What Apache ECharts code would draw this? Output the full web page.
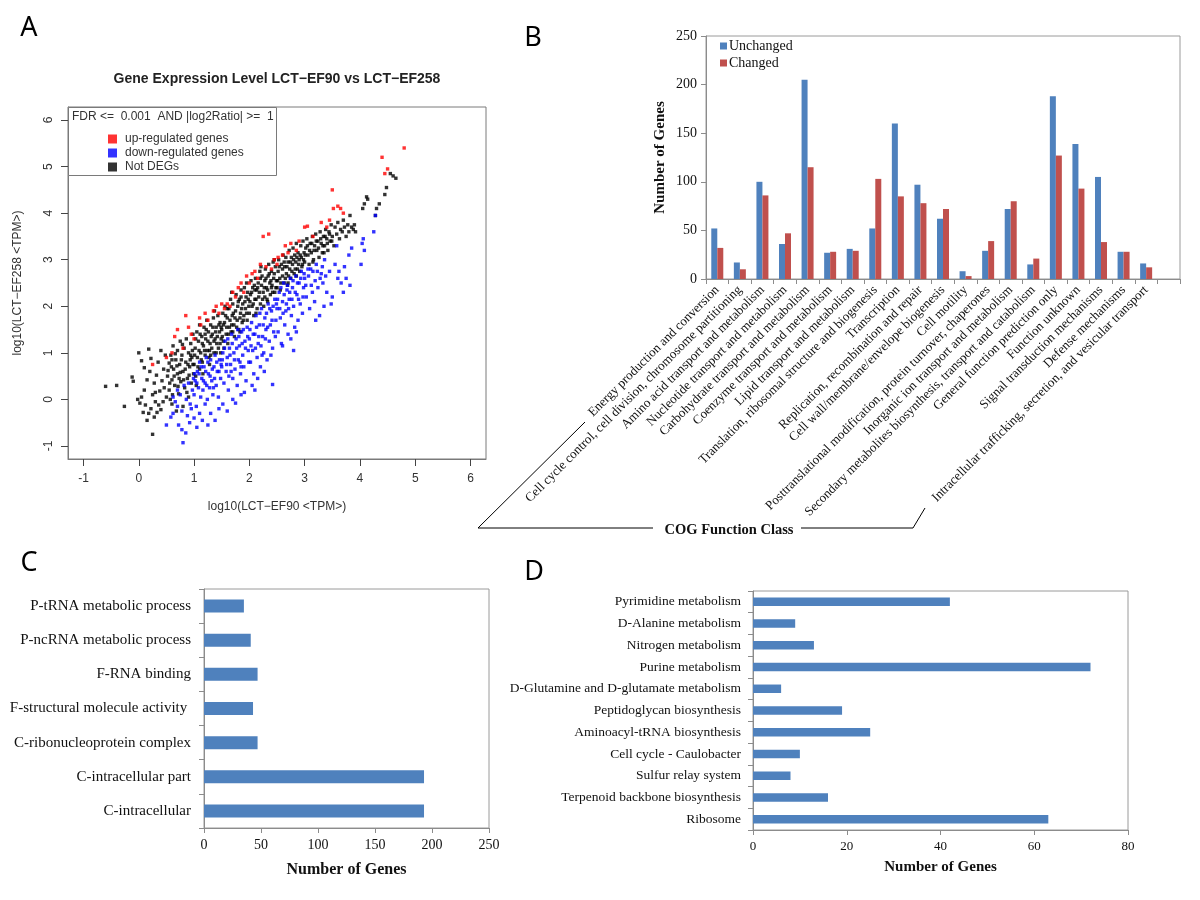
<!DOCTYPE html>
<html><head><meta charset="utf-8">
<script src="https://cdn.jsdelivr.net/npm/echarts@6/dist/echarts.min.js"></script>
<style>html,body{margin:0;padding:0;background:#fff}#c{width:1200px;height:900px}</style>
</head><body><div id="c"></div>
<script>
// ---------- Panel A : scatter (log10 TPM) ----------
const scatterTicks = [-1, 0, 1, 2, 3, 4, 5, 6];
const upRegulated = [
[0.25,0.75],[0.5,0.9],[0.6,1.0],[0.65,1.35],[0.7,1.5],[0.85,1.8],[0.8,1.1],[0.9,1.55],[1.0,1.3],[1.1,1.75],
[1.12,1.6],[1.25,1.7],[1.35,1.9],[1.4,2.0],[1.5,2.05],[1.6,2.05],[1.65,2.0],[1.7,2.3],[1.8,2.4],[1.85,2.5],
[1.9,2.3],[1.95,2.65],[2.05,2.7],[2.2,2.9],[2.25,3.5],[2.35,3.55],[2.4,2.8],[2.5,2.9],[2.52,3.05],[2.6,3.1],
[2.65,3.3],[2.75,3.35],[2.85,3.2],[2.9,3.4],[3.0,3.7],[3.05,3.72],[3.15,3.5],[3.3,3.8],[3.4,3.7],[3.45,3.85],
[3.5,4.5],[3.52,4.1],[3.6,4.15],[3.65,4.1],[3.7,4.0],[4.4,5.2],[4.45,4.85],[4.5,4.95],[4.8,5.4],[1.2,1.85],
[1.45,1.85],[2.1,2.75],[2.3,2.85],[2.0,2.5],[1.75,2.2],[2.45,3.0],[2.7,3.15],[1.55,1.95],[0.95,1.4],[2.15,2.6]
];
const downRegulated = [
[0.5,-0.55],[0.58,-0.38],[0.62,-0.3],[0.7,-0.15],[0.72,-0.55],[0.78,-0.65],[0.8,-0.93],[0.85,-0.72],[0.88,-0.35],[0.92,-0.5],
[0.95,-0.2],[1.0,-0.4],[1.05,-0.6],[1.1,-0.3],[1.15,-0.45],[1.2,-0.1],[1.25,-0.55],[1.3,-0.3],[1.38,-0.45],[1.45,-0.2],
[1.52,-0.1],[1.6,-0.25],[1.7,0.0],[1.75,-0.08],[1.85,0.1],[2.05,0.3],[2.1,0.2],[2.42,0.32],[2.8,1.05],
[0.62,0.05],[0.66,-0.05],[0.7,0.2],[0.75,0.1],[0.78,-0.25],[0.82,0.3],[0.86,0.0],[0.9,0.35],[0.93,-0.1],[0.97,0.2],[0.99,0.45],
[1.0,0.1],[1.02,0.4],[1.04,-0.15],[1.06,0.6],[1.08,0.25],[1.1,0.8],[1.12,0.05],[1.14,0.45],[1.16,0.2],[1.18,0.7],
[1.2,0.35],[1.22,0.9],[1.24,0.0],[1.26,0.55],[1.28,0.25],[1.3,0.85],[1.32,0.4],[1.34,0.1],[1.36,0.7],[1.38,0.95],
[1.4,0.3],[1.42,0.6],[1.44,0.05],[1.46,0.85],[1.48,0.45],
[1.01,0.55],[1.05,0.35],[1.09,0.55],[1.13,0.7],[1.17,0.4],[1.21,0.6],[1.25,0.8],[1.29,0.5],[1.33,0.65],[1.37,0.45],
[1.41,0.8],[1.45,0.6],[1.49,0.75],[1.23,0.3],[1.35,0.25],
[1.5,0.7],[1.52,1.0],[1.54,0.35],[1.56,1.25],[1.58,0.6],[1.6,0.9],[1.62,0.2],[1.64,1.1],[1.66,0.75],[1.68,1.4],
[1.7,0.45],[1.72,1.0],[1.74,0.65],[1.76,1.3],[1.78,0.3],[1.8,0.85],[1.82,1.15],[1.84,0.55],[1.86,1.45],[1.88,0.95],
[1.9,0.7],[1.92,1.25],[1.94,0.4],[1.96,1.55],[1.98,1.05],[1.63,0.5],[1.79,1.5],[1.91,0.15],
[1.51,0.85],[1.55,1.1],[1.59,0.75],[1.61,1.3],[1.65,0.95],[1.69,1.2],[1.73,0.85],[1.77,1.1],[1.81,1.35],[1.83,0.8],
[1.87,1.2],[1.89,1.5],[1.93,1.1],[1.97,1.35],[1.99,0.8],[1.67,0.6],[1.85,0.7],
[2.0,1.3],[2.02,0.8],[2.04,1.65],[2.06,1.05],[2.08,0.55],[2.1,1.4],[2.12,1.8],[2.14,0.9],[2.16,1.2],[2.18,1.6],
[2.2,0.7],[2.22,1.95],[2.24,1.35],[2.26,1.0],[2.28,1.75],[2.3,1.5],[2.32,0.85],[2.34,2.05],[2.36,1.25],[2.38,1.6],
[2.4,1.9],[2.42,1.1],[2.44,1.45],[2.46,2.15],[2.48,1.7],[2.15,0.45],[2.27,0.6],[2.39,0.95],
[2.01,1.5],[2.03,1.15],[2.07,1.4],[2.11,1.1],[2.13,1.55],[2.17,1.35],[2.19,1.85],[2.21,1.15],[2.25,1.6],[2.29,1.3],
[2.31,1.85],[2.33,1.55],[2.37,1.95],[2.41,1.7],[2.43,2.0],[2.47,1.35],[2.49,2.05],[2.23,0.95],
[2.5,1.95],[2.52,1.45],[2.54,2.3],[2.56,1.75],[2.58,1.2],[2.6,2.1],[2.62,2.5],[2.64,1.6],[2.66,1.9],[2.68,2.35],
[2.7,1.4],[2.72,2.15],[2.74,2.6],[2.76,1.8],[2.78,2.4],[2.8,2.0],[2.82,1.55],[2.84,2.65],[2.86,2.25],[2.88,1.7],
[2.9,2.5],[2.92,2.05],[2.94,2.75],[2.96,1.85],[2.98,2.4],[2.6,1.15],[2.75,1.3],[2.85,1.45],
[2.51,2.15],[2.55,1.95],[2.57,2.4],[2.61,1.85],[2.63,2.25],[2.67,2.05],[2.69,2.45],[2.71,1.95],[2.73,2.3],[2.77,2.15],
[2.79,2.55],[2.83,2.3],[2.87,2.5],[2.89,2.15],[2.93,2.6],[2.97,2.2],[2.99,2.7],
[3.0,2.6],[3.03,2.2],[3.06,2.8],[3.09,1.95],[3.12,2.45],[3.15,2.75],[3.18,2.1],[3.21,2.9],[3.24,2.4],[3.27,1.8],
[3.3,2.7],[3.33,2.5],[3.36,3.0],[3.4,2.3],[3.45,2.75],[3.48,2.05],[3.2,1.7],[3.35,2.0],
[3.02,2.45],[3.07,2.65],[3.11,2.8],[3.14,2.3],[3.19,2.55],[3.23,2.75],[3.28,2.6],[3.32,2.85],[3.38,2.65],
[3.5,2.2],[3.55,2.9],[3.58,3.3],[3.6,2.6],[3.62,2.75],[3.66,2.5],[3.7,2.3],[3.72,2.85],[3.75,2.6],[3.8,3.1],
[3.82,2.45],[3.85,3.25],[4.02,2.9],[4.04,3.35],[4.06,3.45],[4.08,3.2],[4.25,3.6],[4.28,3.95]
];
const notDEGs = [
[-0.6,0.28],[-0.4,0.3],[-0.26,-0.15],[-0.1,0.39],[-0.12,0.48],[0,1.0],[0.05,0.83],[0.18,1.08],[0.25,-0.75],[-0.02,0],
[0.02,-0.08],[0.05,0.05],[0.08,-0.28],[0.12,-0.12],[0.15,-0.45],[0.18,-0.3],[0.22,-0.2],[0.28,-0.38],[0.3,-0.05],[0.1,0.2],
[0.15,0.42],[0.2,0.6],[0.25,0.1],[0.28,0.35],[0.32,0.52],[0.35,0.8],[0.38,0.18],[0.4,-0.22],[0.42,0.4],[0.45,0.65],
[0.48,0.95],[0.5,0.05],[0.33,-0.28],[0.4,1.05],[0.46,0.25],[0.36,-0.12],[0.1,0.68],[0.22,0.88],[0.3,0.15],[0.44,-0.05],
[0.52,0.5],[0.55,0.78],[0.55,0.2],[0.58,0.95],[0.6,-0.1],[0.6,0.42],[0.62,1.15],[0.63,0.65],[0.65,0.3],[0.67,0.85],
[0.68,-0.25],[0.7,0.55],[0.7,1.05],[0.72,0.12],[0.74,0.75],[0.75,1.25],[0.76,0.38],[0.78,0.95],[0.8,0.6],[0.8,-0.15],
[0.82,1.1],[0.83,0.25],[0.85,0.8],[0.86,1.3],[0.88,0.45],[0.9,1.0],[0.9,0.05],[0.92,0.7],[0.94,1.2],[0.95,0.35],
[0.96,0.9],[0.98,1.4],[0.99,0.55],[0.57,0.0],[0.66,0.98],[0.73,0.45],[0.79,1.18],[0.84,0.65],[0.87,0.15],[0.93,0.85],[0.97,1.05],
[0.53,0.62],[0.56,0.35],[0.59,0.7],[0.61,0.1],[0.64,0.5],[0.69,0.72],[0.71,0.28],[0.77,0.85],[0.81,0.42],[0.89,0.75],
[0.91,0.52],[0.94,0.95],[0.98,0.75],[0.6,0.85],[0.75,0.58],
[1.0,0.75],[1.02,1.1],[1.03,0.5],[1.05,1.45],[1.06,0.9],[1.08,1.25],[1.1,0.65],[1.1,1.6],[1.12,1.0],[1.14,1.35],
[1.15,0.8],[1.17,1.15],[1.18,1.55],[1.2,0.95],[1.21,1.3],[1.23,1.7],[1.24,1.05],[1.26,1.45],[1.27,0.9],[1.29,1.2],
[1.3,1.6],[1.32,1.1],[1.33,1.4],[1.35,1.75],[1.36,1.0],[1.38,1.3],[1.4,1.55],[1.41,1.2],[1.43,1.8],[1.44,1.1],
[1.46,1.45],[1.47,1.65],[1.49,1.3],[1.04,0.3],[1.16,0.55],[1.28,0.75],[1.37,1.9],[1.48,1.0],
[1.01,0.95],[1.03,1.3],[1.07,0.7],[1.09,1.05],[1.11,1.4],[1.13,0.85],[1.15,1.2],[1.19,1.05],[1.22,1.5],[1.25,1.25],
[1.28,1.05],[1.31,1.35],[1.34,1.55],[1.36,1.25],[1.39,1.45],[1.42,1.35],[1.45,1.6],[1.47,1.2],[1.49,1.55],[1.2,1.4],
[1.3,0.95],[1.4,1.0],
[1.5,1.5],[1.52,1.85],[1.53,1.25],[1.55,1.65],[1.56,2.0],[1.58,1.4],[1.6,1.75],[1.61,1.2],[1.63,1.95],[1.64,1.55],
[1.66,2.15],[1.67,1.45],[1.69,1.8],[1.7,2.05],[1.72,1.6],[1.73,1.35],[1.75,1.9],[1.76,2.25],[1.78,1.7],[1.79,2.0],
[1.81,1.5],[1.82,2.15],[1.84,1.85],[1.85,2.35],[1.87,1.65],[1.88,2.05],[1.9,1.8],[1.91,2.4],[1.93,1.95],[1.94,2.2],
[1.96,1.7],[1.97,2.3],[1.99,2.0],[1.54,1.1],[1.68,2.3],[1.83,1.45],[1.95,2.5],
[1.51,1.35],[1.53,1.6],[1.57,1.8],[1.59,1.55],[1.62,1.4],[1.65,1.7],[1.68,1.6],[1.71,1.85],[1.74,1.75],[1.77,1.55],
[1.8,2.1],[1.83,1.75],[1.86,1.95],[1.89,1.7],[1.92,2.1],[1.95,1.85],[1.98,2.15],[1.6,1.95],[1.7,1.45],[1.85,2.2],
[2.0,1.85],[2.02,2.25],[2.03,2.55],[2.05,2.0],[2.06,2.4],[2.08,1.8],[2.1,2.15],[2.11,2.6],[2.13,2.35],[2.14,1.95],
[2.16,2.5],[2.17,2.2],[2.19,2.75],[2.2,2.05],[2.22,2.45],[2.23,2.65],[2.25,2.3],[2.26,2.0],[2.28,2.55],[2.29,2.8],
[2.31,2.4],[2.32,2.15],[2.34,2.65],[2.35,2.9],[2.37,2.5],[2.38,2.25],[2.4,2.75],[2.41,2.45],[2.43,2.95],[2.44,2.6],
[2.46,2.3],[2.47,2.85],[2.49,2.55],[2.09,2.45],[2.21,2.85],[2.33,2.1],[2.45,3.0],
[2.01,2.1],[2.04,2.3],[2.07,2.05],[2.1,2.35],[2.12,2.15],[2.15,2.4],[2.18,2.3],[2.2,2.6],[2.24,2.15],[2.27,2.4],
[2.3,2.6],[2.33,2.35],[2.36,2.7],[2.39,2.55],[2.42,2.3],[2.45,2.7],[2.48,2.4],[2.12,1.85],[2.28,2.2],[2.4,2.4],
[2.5,2.4],[2.52,2.75],[2.53,3.0],[2.55,2.6],[2.56,2.35],[2.58,2.9],[2.6,2.65],[2.61,3.1],[2.63,2.5],[2.64,2.85],
[2.66,3.05],[2.67,2.7],[2.69,2.45],[2.7,2.95],[2.72,3.2],[2.73,2.8],[2.75,2.6],[2.76,3.05],[2.78,2.9],[2.79,3.25],
[2.81,2.7],[2.82,3.1],[2.84,2.95],[2.85,3.35],[2.87,2.8],[2.88,3.15],[2.9,3.0],[2.91,2.75],[2.93,3.3],[2.94,3.05],
[2.96,2.9],[2.97,3.4],[2.99,3.15],
[2.51,2.55],[2.54,2.85],[2.57,2.5],[2.6,2.8],[2.63,2.95],[2.65,2.6],[2.68,2.85],[2.71,2.65],[2.74,2.95],[2.77,2.75],
[2.8,3.0],[2.83,2.8],[2.86,3.05],[2.89,2.9],[2.92,3.1],[2.95,2.85],[2.98,3.0],[2.7,2.5],[2.85,2.65],
[3.0,2.95],[3.02,3.25],[3.04,3.45],[3.06,3.1],[3.08,2.9],[3.1,3.35],[3.12,3.15],[3.14,3.5],[3.16,3.0],[3.18,3.3],
[3.2,3.55],[3.22,3.2],[3.24,3.4],[3.26,3.05],[3.28,3.6],[3.3,3.35],[3.32,3.15],[3.34,3.5],[3.36,3.3],[3.38,3.65],
[3.4,3.45],[3.42,3.2],[3.44,3.6],[3.46,3.4],[3.48,3.75],
[3.01,3.1],[3.05,3.3],[3.09,3.2],[3.13,3.35],[3.17,3.2],[3.21,3.4],[3.25,3.25],[3.29,3.45],[3.33,3.3],[3.37,3.5],
[3.41,3.35],[3.45,3.55],[3.49,3.4],[3.15,2.95],[3.35,3.15],
[3.5,3.5],[3.53,3.3],[3.55,3.7],[3.58,3.55],[3.6,3.8],[3.63,3.45],[3.65,3.65],[3.68,3.6],[3.7,3.85],[3.72,3.7],
[3.75,3.5],[3.78,3.75],[3.8,3.6],[3.82,3.95],[3.85,3.7],[3.88,3.65],[3.9,3.75],[3.92,3.6],
[4.05,4.1],[4.08,4.2],[4.12,4.35],[4.14,4.3],[4.28,3.95],[4.3,4.1],[4.35,4.2],[4.45,4.4],[4.48,4.55],[4.55,4.85],
[4.6,4.8],[4.65,4.75]
];

// ---------- Panel B : COG function classes ----------
const cogClasses = [
'Energy production and conversion',
'Cell cycle control, cell division, chromosome partitioning',
'Amino acid transport and metabolism',
'Nucleotide transport and metabolism',
'Carbohydrate transport and metabolism',
'Coenzyme transport and metabolism',
'Lipid transport and metabolism',
'Translation, ribosomal structure and biogenesis',
'Transcription',
'Replication, recombination and repair',
'Cell wall/membrane/envelope biogenesis',
'Cell motility',
'Posttranslational modification, protein turnover, chaperones',
'Inorganic ion transport and metabolism',
'Secondary metabolites biosynthesis, transport and catabolism',
'General function prediction only',
'Function unknown',
'Signal transduction mechanisms',
'Defense mechanisms',
'Intracellular trafficking, secretion, and vesicular transport',
''
];
const cogUnchanged = [52,17,100,36,205,27,31,52,160,97,62,8,29,72,15,188,139,105,28,16,null];
const cogChanged   = [32,10,86,47,115,28,29,103,85,78,72,3,39,80,21,127,93,38,28,12,null];

// ---------- Panel C : GO terms ----------
const goTerms = ['P-tRNA metabolic process','P-ncRNA metabolic process','F-RNA binding',
'F-structural molecule activity ','C-ribonucleoprotein complex','C-intracellular part','C-intracellular'];
const goCounts = [35,41,47,43,47,193,193];

// ---------- Panel D : KEGG pathways ----------
const keggPathways = ['Pyrimidine metabolism','D-Alanine metabolism','Nitrogen metabolism','Purine metabolism',
'D-Glutamine and D-glutamate metabolism','Peptidoglycan biosynthesis','Aminoacyl-tRNA biosynthesis',
'Cell cycle - Caulobacter','Sulfur relay system','Terpenoid backbone biosynthesis','Ribosome'];
const keggCounts = [42,9,13,72,6,19,25,10,8,16,63];

const SANS = 'Liberation Sans';
const SERIF = 'Liberation Serif';
const BLUE = '#4F81BD', RED = '#C0504D';
const axisGray = '#8c8c8c';

const chart = echarts.init(document.getElementById('c'), null, {renderer: 'canvas'});

const serifLabel = (size) => ({fontFamily: SERIF, fontSize: size, color: '#111'});

chart.setOption({
  animation: false,
  backgroundColor: '#fff',
  grid: [
    {left: 68, top: 107, width: 418, height: 352, show: true, borderColor: '#7a7a7a', borderWidth: 1, backgroundColor: 'transparent'},
    {left: 706, top: 36, width: 474, height: 243, show: true, borderColor: '#9a9a9a', borderWidth: 1, backgroundColor: 'transparent'},
    {left: 204, top: 589, width: 285, height: 239, show: true, borderColor: '#9a9a9a', borderWidth: 1, backgroundColor: 'transparent'},
    {left: 753, top: 591, width: 375, height: 239, show: true, borderColor: '#9a9a9a', borderWidth: 1, backgroundColor: 'transparent'}
  ],
  xAxis: [
    {gridIndex: 0, type: 'value', min: -1.28, max: 6.28,
     axisLine: {show: true, onZero: false, lineStyle: {color: '#7a7a7a'}}, splitLine: {show: false},
     axisTick: {show: true, customValues: scatterTicks, length: 7, lineStyle: {color: '#444'}},
     axisLabel: {customValues: scatterTicks, margin: 14, fontFamily: SANS, fontSize: 12, color: '#333'},
     name: 'log10(LCT\u2212EF90 <TPM>)', nameLocation: 'middle', nameGap: 42,
     nameTextStyle: {fontFamily: SANS, fontSize: 12, color: '#333'}},
    {gridIndex: 1, type: 'category', data: cogClasses,
     axisLine: {show: true, onZero: false, lineStyle: {color: axisGray}},
     axisTick: {show: true, length: 5, lineStyle: {color: axisGray}},
     axisLabel: {interval: 0, rotate: 45, margin: 9, fontFamily: SERIF, fontSize: 13, color: '#111'}},
    {gridIndex: 2, type: 'value', min: 0, max: 250, interval: 50,
     axisLine: {show: true, onZero: false, lineStyle: {color: axisGray}}, splitLine: {show: false},
     axisTick: {show: true, length: 5, lineStyle: {color: axisGray}},
     axisLabel: Object.assign({margin: 10}, serifLabel(14)),
     name: 'Number of Genes', nameLocation: 'middle', nameGap: 34,
     nameTextStyle: {fontFamily: SERIF, fontSize: 16, fontWeight: 'bold', color: '#111'}},
    {gridIndex: 3, type: 'value', min: 0, max: 80, interval: 20,
     axisLine: {show: true, onZero: false, lineStyle: {color: axisGray}}, splitLine: {show: false},
     axisTick: {show: true, length: 5, lineStyle: {color: axisGray}},
     axisLabel: Object.assign({margin: 10}, serifLabel(13)),
     name: 'Number of Genes', nameLocation: 'middle', nameGap: 30,
     nameTextStyle: {fontFamily: SERIF, fontSize: 15, fontWeight: 'bold', color: '#111'}}
  ],
  yAxis: [
    {gridIndex: 0, type: 'value', min: -1.28, max: 6.28,
     axisLine: {show: true, onZero: false, lineStyle: {color: '#7a7a7a'}}, splitLine: {show: false},
     axisTick: {show: true, customValues: scatterTicks, length: 7, lineStyle: {color: '#444'}},
     axisLabel: {customValues: scatterTicks, rotate: 90, margin: 13, fontFamily: SANS, fontSize: 12, color: '#333'},
     name: 'log10(LCT\u2212EF258 <TPM>)', nameLocation: 'middle', nameGap: 44,
     nameTextStyle: {fontFamily: SANS, fontSize: 12, color: '#333'}},
    {gridIndex: 1, type: 'value', min: 0, max: 250, interval: 50,
     axisLine: {show: true, onZero: false, lineStyle: {color: axisGray}}, splitLine: {show: false},
     axisTick: {show: true, length: 5, lineStyle: {color: axisGray}},
     axisLabel: Object.assign({margin: 9}, serifLabel(14)),
     name: 'Number of Genes', nameLocation: 'middle', nameGap: 38,
     nameTextStyle: {fontFamily: SERIF, fontSize: 15, fontWeight: 'bold', color: '#111'}},
    {gridIndex: 2, type: 'category', data: goTerms, inverse: true,
     axisLine: {show: true, onZero: false, lineStyle: {color: axisGray}},
     axisTick: {show: true, length: 5, lineStyle: {color: axisGray}},
     axisLabel: Object.assign({interval: 0, margin: 13}, serifLabel(15))},
    {gridIndex: 3, type: 'category', data: keggPathways, inverse: true,
     axisLine: {show: true, onZero: false, lineStyle: {color: axisGray}},
     axisTick: {show: true, length: 5, lineStyle: {color: axisGray}},
     axisLabel: Object.assign({interval: 0, margin: 12}, serifLabel(13.5))}
  ],
  legend: [
    {data: ['up-regulated genes', 'down-regulated genes', 'Not DEGs'], orient: 'vertical',
     left: 103, top: 128, icon: 'rect', itemWidth: 9, itemHeight: 9, itemGap: 2,
     textStyle: {fontFamily: SANS, fontSize: 12, color: '#333', padding: [0, 0, 0, 3]}},
    {data: ['Unchanged', 'Changed'], orient: 'vertical',
     left: 715, top: 34, icon: 'rect', itemWidth: 7, itemHeight: 7, itemGap: 3,
     textStyle: {fontFamily: SERIF, fontSize: 14, color: '#111', padding: [0, 0, 0, -3]}}
  ],
  series: [
    {name: 'Not DEGs', type: 'scatter', xAxisIndex: 0, yAxisIndex: 0, data: notDEGs,
     symbol: 'rect', symbolSize: 3.4, itemStyle: {color: '#000'}},
    {name: 'down-regulated genes', type: 'scatter', xAxisIndex: 0, yAxisIndex: 0, data: downRegulated,
     symbol: 'rect', symbolSize: 3.4, itemStyle: {color: '#0000ff'}},
    {name: 'up-regulated genes', type: 'scatter', xAxisIndex: 0, yAxisIndex: 0, data: upRegulated,
     symbol: 'rect', symbolSize: 3.4, itemStyle: {color: '#ff0000'}},
    {name: 'Unchanged', type: 'bar', xAxisIndex: 1, yAxisIndex: 1, data: cogUnchanged,
     barWidth: 6, barGap: '0%', itemStyle: {color: BLUE}},
    {name: 'Changed', type: 'bar', xAxisIndex: 1, yAxisIndex: 1, data: cogChanged,
     barWidth: 6, barGap: '0%', itemStyle: {color: RED}},
    {name: 'GO', type: 'bar', xAxisIndex: 2, yAxisIndex: 2, data: goCounts,
     barWidth: 13, itemStyle: {color: BLUE}},
    {name: 'KEGG', type: 'bar', xAxisIndex: 3, yAxisIndex: 3, data: keggCounts,
     barWidth: 8.5, itemStyle: {color: BLUE}}
  ],
  graphic: [
    {type: 'rect', z: 3, shape: {x: 68.5, y: 107.5, width: 208, height: 68},
     style: {fill: '#fff', stroke: '#7a7a7a', lineWidth: 1}},
    {type: 'text', z: 5, x: 72, y: 117,
     style: {text: 'FDR <=  0.001  AND |log2Ratio| >=  1', fontFamily: SANS, fontSize: 12, fill: '#333', textVerticalAlign: 'middle'}},
    {type: 'text', x: 277, y: 79,
     style: {text: 'Gene Expression Level LCT\u2212EF90 vs LCT\u2212EF258', fontFamily: SANS, fontSize: 14, fontWeight: 'bold', fill: '#222', textAlign: 'center', textVerticalAlign: 'middle'}},
    {type: 'text', x: 29, y: 28, style: {text: 'A', fontFamily: 'Noto Sans', fontSize: 27, fill: '#000', textAlign: 'center', textVerticalAlign: 'middle'}},
    {type: 'text', x: 533, y: 38, style: {text: 'B', fontFamily: 'Noto Sans', fontSize: 27, fill: '#000', textAlign: 'center', textVerticalAlign: 'middle'}},
    {type: 'text', x: 29, y: 563, style: {text: 'C', fontFamily: 'Noto Sans', fontSize: 27, fill: '#000', textAlign: 'center', textVerticalAlign: 'middle'}},
    {type: 'text', x: 534, y: 572, style: {text: 'D', fontFamily: 'Noto Sans', fontSize: 27, fill: '#000', textAlign: 'center', textVerticalAlign: 'middle'}},
    {type: 'polyline', shape: {points: [[585, 422], [478, 528], [653, 528]]}, style: {stroke: '#000', lineWidth: 1, fill: null}},
    {type: 'polyline', shape: {points: [[801, 528], [913, 528], [925, 508]]}, style: {stroke: '#000', lineWidth: 1, fill: null}},
    {type: 'text', x: 729, y: 530,
     style: {text: 'COG Function Class', fontFamily: SERIF, fontSize: 14.5, fontWeight: 'bold', fill: '#111', textAlign: 'center', textVerticalAlign: 'middle'}}
  ]
});
</script></body></html>
